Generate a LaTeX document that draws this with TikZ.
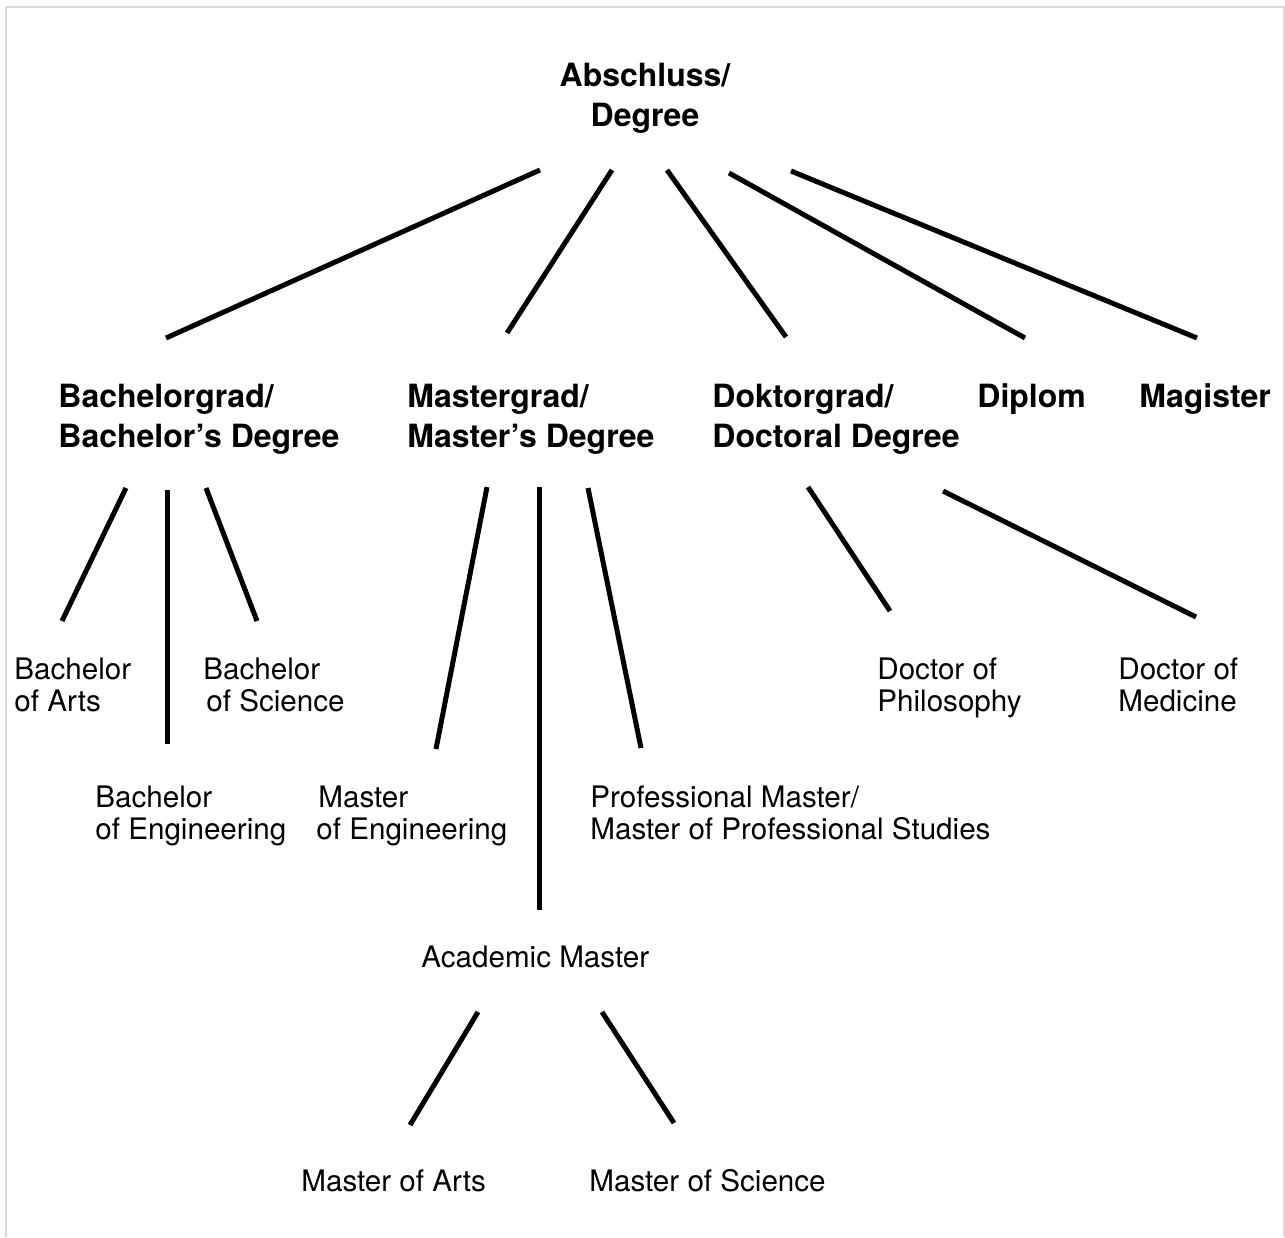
\documentclass[tikz,border=0pt]{standalone}
\usepackage{fontspec}
\setmainfont{TeX Gyre Heros}
\definecolor{framegray}{HTML}{D9D9D9}
\begin{document}
\begin{tikzpicture}[x=0.5pt,y=-0.5pt,
  head/.style={font=\fontsize{16pt}{20pt}\selectfont\bfseries, align=left, anchor=base west, inner sep=0pt},
  leaf/.style={font=\fontsize{14.8pt}{16pt}\selectfont, align=left, anchor=base west, inner sep=0pt},
  link/.style={line width=2.5pt, line cap=butt}]
\useasboundingbox (0,0) rectangle (1285,1237);
% open frame
\draw[framegray, line width=1pt] (5.5,1237) -- (5.5,6.5) -- (1283.5,6.5) -- (1283.5,1237);

% top level (anchored at the baseline of the last line)
\node[head, align=center, anchor=base] (root) at (645,126) {Abschluss/\\Degree};

% second level
\node[head] (bach) at (58,447) {Bachelorgrad/\\Bachelor’s Degree};
\node[head] (mast) at (407,447) {Mastergrad/\\Master’s Degree};
\node[head] (dokt) at (712,447) {Doktorgrad/\\Doctoral Degree};
\node[head] (dipl) at (977,407) {Diplom};
\node[head] (magi) at (1139,407) {Magister};

% bachelor degrees
\node[leaf] (ba) at (14,711) {Bachelor\\of Arts};
\node[leaf] (bs) at (203,711) {Bachelor\\\hspace{1.5pt}of Science};
\node[leaf] (be) at (95,839) {Bachelor\\of Engineering};

% master degrees
\node[leaf] (me) at (316,839) {\hspace{1pt}Master\\of Engineering};
\node[leaf] (pm) at (590,839) {Professional Master/\\Master of Professional Studies};
\node[leaf] (am) at (421,967) {Academic Master};
\node[leaf] (ma) at (301,1191) {Master of Arts};
\node[leaf] (ms) at (589,1191) {Master of Science};

% doctoral degrees
\node[leaf] (dp) at (877,711) {Doctor of\\Philosophy};
\node[leaf] (dm) at (1118,711) {Doctor of\\Medicine};

% connector ends
\coordinate (root-1) at (540,170);   \coordinate (bach-t) at (166,338);
\coordinate (root-2) at (612,170);   \coordinate (mast-t) at (507,333);
\coordinate (root-3) at (667,170);   \coordinate (dokt-t) at (786,337);
\coordinate (root-4) at (729,173);   \coordinate (dipl-t) at (1025,338);
\coordinate (root-5) at (791,171);   \coordinate (magi-t) at (1197,338);

\coordinate (bach-1) at (126,488);   \coordinate (ba-t) at (62,621);
\coordinate (bach-2) at (167,490);   \coordinate (be-t) at (167,744);
\coordinate (bach-3) at (206,488);   \coordinate (bs-t) at (257,621);

\coordinate (mast-1) at (487,487);   \coordinate (me-t) at (436,749);
\coordinate (mast-2) at (539,487);   \coordinate (am-t) at (539,910);
\coordinate (mast-3) at (588,488);   \coordinate (pm-t) at (641,748);

\coordinate (dokt-1) at (808,487);   \coordinate (dp-t) at (890,611);
\coordinate (dokt-2) at (943,491);   \coordinate (dm-t) at (1196,617);

\coordinate (am-1) at (478,1012);    \coordinate (ma-t) at (410,1125);
\coordinate (am-2) at (602,1012);    \coordinate (ms-t) at (674,1123);

% connectors
\draw[link] (root-1) -- (bach-t);
\draw[link] (root-2) -- (mast-t);
\draw[link] (root-3) -- (dokt-t);
\draw[link] (root-4) -- (dipl-t);
\draw[link] (root-5) -- (magi-t);
\draw[link] (bach-1) -- (ba-t);
\draw[link] (bach-2) -- (be-t);
\draw[link] (bach-3) -- (bs-t);
\draw[link] (mast-1) -- (me-t);
\draw[link] (mast-2) -- (am-t);
\draw[link] (mast-3) -- (pm-t);
\draw[link] (dokt-1) -- (dp-t);
\draw[link] (dokt-2) -- (dm-t);
\draw[link] (am-1) -- (ma-t);
\draw[link] (am-2) -- (ms-t);
\end{tikzpicture}
\end{document}
